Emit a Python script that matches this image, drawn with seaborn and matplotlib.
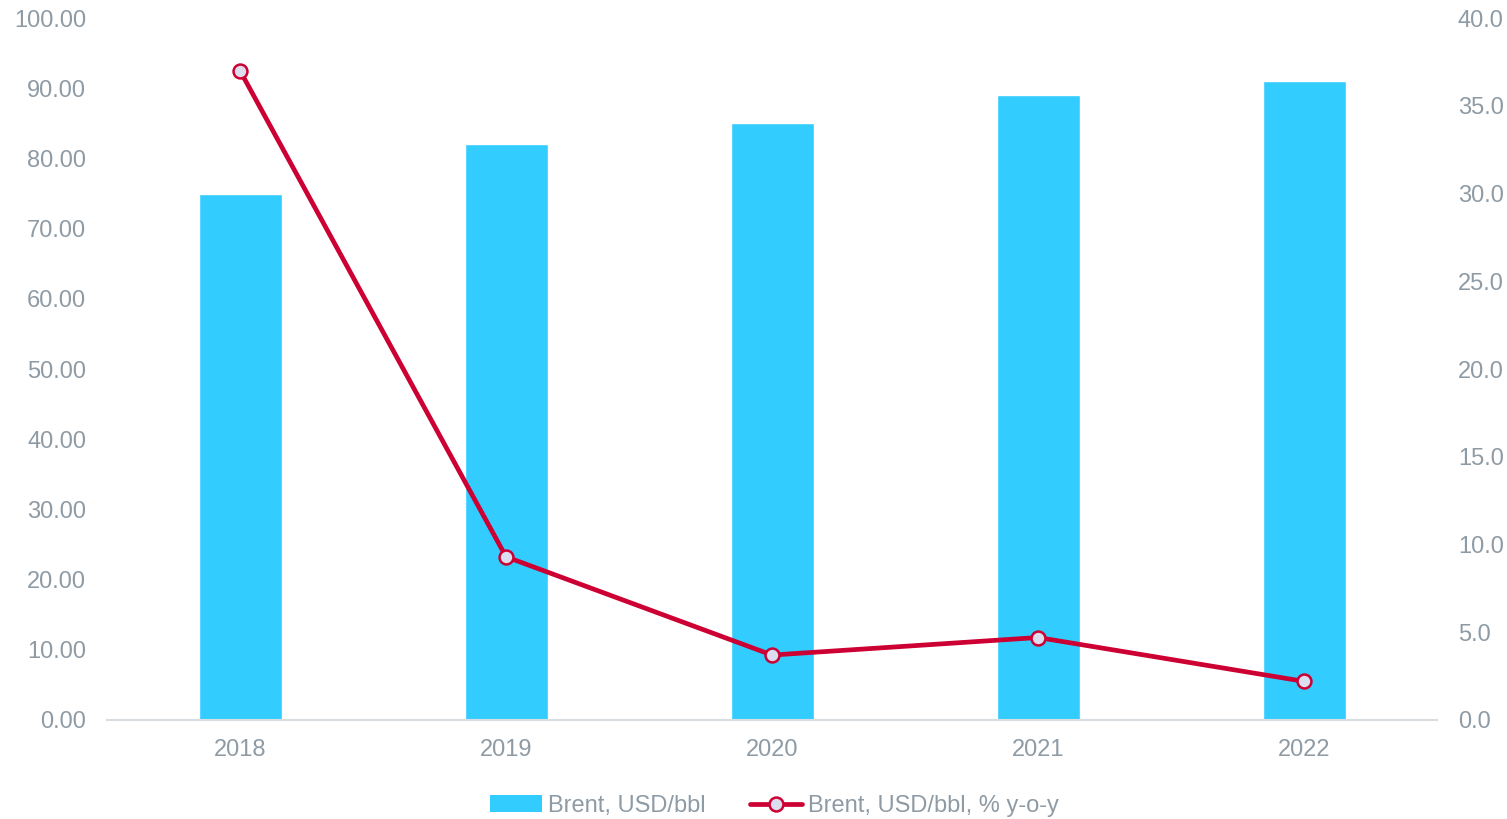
import matplotlib
matplotlib.use("Agg")
import matplotlib.pyplot as plt
import seaborn as sns
import pandas as pd
from matplotlib.patches import Patch
from matplotlib.lines import Line2D
from matplotlib.ticker import FormatStrFormatter

years = ["2018", "2019", "2020", "2021", "2022"]
brent_price = [75, 82, 85, 89, 91]
brent_yoy = [37.0, 9.3, 3.7, 4.7, 2.2]

bar_label = "Brent, USD/bbl"
line_label = "Brent, USD/bbl, % y-o-y"

bar_color = "#33CCFF"
line_color = "#CC0033"
marker_face = "#DCDDEF"
text_color = "#8E9BA5"

sns.set_theme(style="white")
plt.rcParams["font.family"] = ["Liberation Sans", "DejaVu Sans"]

df = pd.DataFrame({"year": years, "price": brent_price, "yoy": brent_yoy})

fig = plt.figure(figsize=(15.07, 8.19), dpi=100)
ax = fig.add_axes([0.071, 0.1209, 0.8826, 0.8571])

sns.barplot(data=df, x="year", y="price", color=bar_color, width=0.312,
            saturation=1, ax=ax)

ax2 = ax.twinx()
sns.pointplot(data=df, x="year", y="yoy", color=line_color, ax=ax2,
              markers="o", linestyles="-")
for ln in ax2.lines:
    ln.set_linewidth(3.4)
    ln.set_markersize(10)
    ln.set_markerfacecolor(marker_face)
    ln.set_markeredgecolor(line_color)
    ln.set_markeredgewidth(1.8)
    ln.set_zorder(5)

ax.set_xlim(-0.5, 4.5)
ax2.set_xlim(-0.5, 4.5)
ax.set_ylim(0, 100)
ax2.set_ylim(0, 40)
ax.set_yticks(range(0, 101, 10))
ax2.set_yticks(range(0, 41, 5))
ax.yaxis.set_major_formatter(FormatStrFormatter("%.2f"))
ax2.yaxis.set_major_formatter(FormatStrFormatter("%.1f"))

for a in (ax, ax2):
    a.set_xlabel("")
    a.set_ylabel("")
    for s in a.spines.values():
        s.set_visible(False)
    a.grid(False)

ax.spines["bottom"].set_visible(True)
ax.spines["bottom"].set_color("#D9DEE3")
ax.spines["bottom"].set_linewidth(1.5)

fs = 17
ax.tick_params(axis="y", length=0, pad=15, labelsize=fs, labelcolor=text_color)
ax2.tick_params(axis="y", length=0, pad=15, labelsize=fs, labelcolor=text_color)
ax.tick_params(axis="x", length=0, pad=14, labelsize=fs, labelcolor=text_color)

handles = [
    Patch(facecolor=bar_color, edgecolor="none"),
    Line2D([0], [0], color=line_color, lw=3.4, marker="o", markersize=10,
           markerfacecolor=marker_face, markeredgecolor=line_color,
           markeredgewidth=1.8),
]
leg = fig.legend(handles, [bar_label, line_label], loc="center",
                 bbox_to_anchor=(0.514, 0.016), ncol=2, frameon=False,
                 fontsize=fs, handlelength=2.2, handletextpad=0.25,
                 columnspacing=1.9)
for t in leg.get_texts():
    t.set_color(text_color)

fig.savefig("out.png", dpi=100, facecolor="white")
